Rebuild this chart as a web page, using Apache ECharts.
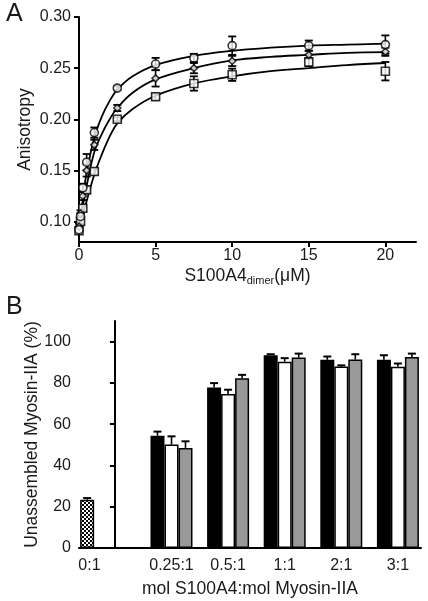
<!DOCTYPE html>
<html><head><meta charset="utf-8">
<script src="https://cdn.jsdelivr.net/npm/echarts@6/dist/echarts.min.js"></script>
<style>html,body{margin:0;padding:0;background:#fff}#c{width:428px;height:601px}</style>
</head><body><div id="c"></div>
<script>
// ---------- Panel A data ----------
const concA = [0, 0.1, 0.25, 0.5, 1, 2.5, 5, 7.5, 10, 15, 20];
const circleVals = [0.092, 0.105, 0.133, 0.158, 0.187, 0.2305, 0.254, 0.260, 0.272, 0.272, 0.273];
const circleErr  = [0.003, 0.003, 0.004, 0.008, 0.005, 0.002, 0.006, 0.004, 0.009, 0.005, 0.009];
const diamondVals = [0.095, 0.108, 0.125, 0.150, 0.175, 0.211, 0.240, 0.250, 0.257, 0.263, 0.266];
const diamondErr  = [0.003, 0.003, 0.004, 0.006, 0.005, 0.003, 0.008, 0.005, 0.005, 0.004, 0.004];
const squareVals = [0.091, 0.100, 0.113, 0.131, 0.149, 0.200, 0.222, 0.235, 0.2435, 0.256, 0.247];
const squareErr  = [0.003, 0.003, 0.003, 0.003, 0.003, 0.002, 0.003, 0.007, 0.006, 0.004, 0.009];
// fitted curves
const fitX = [0, 0.25, 0.5, 1, 1.5, 2, 2.5, 3.5, 5, 7.5, 10, 12.5, 15, 17.5, 20];
const fitTop = [0.092, 0.122, 0.148, 0.182, 0.203, 0.218, 0.229, 0.242, 0.253, 0.262, 0.267, 0.270, 0.272, 0.273, 0.274];
const fitMid = [0.093, 0.115, 0.135, 0.168, 0.186, 0.200, 0.211, 0.226, 0.239, 0.250, 0.2575, 0.261, 0.263, 0.265, 0.2656];
const fitBot = [0.091, 0.106, 0.120, 0.146, 0.166, 0.183, 0.196, 0.210, 0.223, 0.235, 0.242, 0.247, 0.250, 0.253, 0.255];
const ticksAx = [0, 5, 10, 15, 20];
const ticksAy = [0.10, 0.15, 0.20, 0.25, 0.30];

// ---------- Panel B data ----------
const ratioLabels = ['0:1', '0.25:1', '0.5:1', '1:1', '2:1', '3:1'];
const labelPos = [-0.45, 1, 2, 3, 4, 5];
const groupPos = [0, 1, 2, 3, 4, 5];
const blackVals = [null, 54.4, 77.8, 93.4, 91.2, 91.2];
const blackErr  = [null, 2.0, 2.1, 0.5, 1.6, 2.2];
const whiteVals = [0, 50.1, 74.6, 90.3, 87.9, 87.8];
const whiteErr  = [null, 4.0, 2.1, 1.7, 0.6, 1.6];
const greyVals  = [null, 48.5, 82.3, 92.3, 91.3, 92.6];
const greyErr   = [null, 3.2, 1.6, 1.9, 2.6, 1.6];
const ctrlPos = [-0.49];
const ctrlVals = [23.4];
const ctrlErr = [0.8];
const ticksBy = [0, 20, 40, 60, 80, 100];

const FONT = 'Liberation Sans, Arial, sans-serif';
const TXT = '#1a1a1a';

// hatch pattern
const pc = document.createElement('canvas');
pc.width = 4; pc.height = 4;
const g = pc.getContext('2d');
g.fillStyle = '#000'; g.fillRect(0, 0, 4, 4);
g.fillStyle = '#fff'; g.fillRect(0, 0, 2, 2); g.fillRect(2, 2, 2, 2);

function zip(xs, ys) { return xs.map((x, i) => [x, ys[i]]); }
function errData(xs, ys, es) { return xs.map((x, i) => [x, ys[i], es[i]]); }

function errRenderA(params, api) {
  const x = api.value(0), y = api.value(1), e = api.value(2);
  const lo = api.coord([x, y - e]), hi = api.coord([x, y + e]);
  const w = 4;
  return { type: 'group', children: [
    { type: 'line', shape: { x1: lo[0], y1: lo[1], x2: hi[0], y2: hi[1] }, style: { stroke: '#000', lineWidth: 1.6 } },
    { type: 'line', shape: { x1: lo[0] - w, y1: lo[1], x2: lo[0] + w, y2: lo[1] }, style: { stroke: '#000', lineWidth: 1.8 } },
    { type: 'line', shape: { x1: hi[0] - w, y1: hi[1], x2: hi[0] + w, y2: hi[1] }, style: { stroke: '#000', lineWidth: 1.8 } }
  ]};
}
const BW = 14;
function errRenderB(offsetIdx) {
  return function (params, api) {
    const x = api.value(0), y = api.value(1), e = api.value(2);
    if (y == null || isNaN(y) || e == null || isNaN(e)) return;
    const p = api.coord([x, y]), q = api.coord([x, y + e]);
    const dx = offsetIdx * BW;
    return { type: 'group', children: [
      { type: 'line', shape: { x1: p[0] + dx, y1: p[1], x2: q[0] + dx, y2: q[1] }, style: { stroke: '#000', lineWidth: 1.6 } },
      { type: 'line', shape: { x1: q[0] + dx - 4, y1: q[1], x2: q[0] + dx + 4, y2: q[1] }, style: { stroke: '#000', lineWidth: 2 } }
    ]};
  };
}

const axisLineStyle = { lineStyle: { color: '#000', width: 2 } };
const labelStyle = { color: TXT, fontSize: 16, fontFamily: FONT };

const chart = echarts.init(document.getElementById('c'), null, { renderer: 'canvas' });
chart.setOption({
  animation: false,
  backgroundColor: '#fff',
  graphic: [
    { type: 'text', left: 6, top: 2, style: { text: 'A', fontSize: 25, fontFamily: FONT, fill: TXT } },
    { type: 'text', left: 6, top: 295, style: { text: 'B', fontSize: 25, fontFamily: FONT, fill: TXT } }
  ],
  grid: [
    { left: 79, right: 12, top: 17, height: 225 },
    { left: 79, right: 7, top: 321, height: 227 }
  ],
  xAxis: [
    { gridIndex: 0, type: 'value', min: 0, max: 22,
      axisLine: axisLineStyle, splitLine: { show: false },
      axisTick: { show: true, length: 5, lineStyle: { color: '#000', width: 2 }, customValues: ticksAx },
      axisLabel: Object.assign({ margin: 6, customValues: ticksAx }, labelStyle),
      name: 'S100A4{sub|dimer}(μM)', nameLocation: 'middle', nameGap: 24, nameMoveOverlap: false,
      nameTextStyle: { color: TXT, fontSize: 17.5, fontFamily: FONT,
        rich: { sub: { fontSize: 11, fontFamily: FONT, color: TXT, verticalAlign: 'bottom', padding: [9, 0, 0, 0] } } } },
    { gridIndex: 1, type: 'value', min: -0.634, max: 5.408,
      axisLine: axisLineStyle, splitLine: { show: false }, axisTick: { show: false },
      axisLabel: Object.assign({ margin: 10, customValues: labelPos,
        formatter: v => { const i = labelPos.findIndex(p => Math.abs(p - v) < 1e-6); return i >= 0 ? ratioLabels[i] : ''; } }, labelStyle),
      name: 'mol S100A4:mol Myosin-IIA', nameLocation: 'middle', nameGap: 32, nameMoveOverlap: false,
      nameTextStyle: { color: TXT, fontSize: 17.5, fontFamily: FONT } },
    { gridIndex: 1, type: 'value', min: -0.634, max: 5.408, show: false }
  ],
  yAxis: [
    { gridIndex: 0, type: 'value', min: 0.08, max: 0.30,
      axisLine: { show: true, lineStyle: { color: '#000', width: 2 } }, splitLine: { show: false },
      axisTick: { show: true, length: 5, lineStyle: { color: '#000', width: 2 }, customValues: ticksAy },
      axisLabel: Object.assign({ margin: 8, customValues: ticksAy, formatter: v => v.toFixed(2) }, labelStyle),
      name: 'Anisotropy', nameLocation: 'middle', nameGap: 45, nameMoveOverlap: false,
      nameTextStyle: { color: TXT, fontSize: 17.5, fontFamily: FONT } },
    { gridIndex: 1, type: 'value', min: 0, max: 110,
      axisLine: { show: true, lineStyle: { color: '#000', width: 2 } }, splitLine: { show: false },
      axisTick: { show: true, length: 5, lineStyle: { color: '#000', width: 2 }, customValues: ticksBy },
      axisLabel: Object.assign({ margin: 8, customValues: ticksBy }, labelStyle),
      name: 'Unassembled Myosin-IIA (%)', nameLocation: 'middle', nameGap: 38, nameMoveOverlap: false,
      nameTextStyle: { color: TXT, fontSize: 17.5, fontFamily: FONT } }
  ],
  series: [
    // fits
    { type: 'line', xAxisIndex: 0, yAxisIndex: 0, data: zip(fitX, fitTop), smooth: 0.4, showSymbol: false, lineStyle: { color: '#000', width: 1.8 }, z: 2 },
    { type: 'line', xAxisIndex: 0, yAxisIndex: 0, data: zip(fitX, fitMid), smooth: 0.4, showSymbol: false, lineStyle: { color: '#000', width: 1.8 }, z: 2 },
    { type: 'line', xAxisIndex: 0, yAxisIndex: 0, data: zip(fitX, fitBot), smooth: 0.4, showSymbol: false, lineStyle: { color: '#000', width: 1.8 }, z: 2 },
    // error bars A
    { type: 'custom', xAxisIndex: 0, yAxisIndex: 0, renderItem: errRenderA, data: errData(concA, circleVals, circleErr), z: 3 },
    { type: 'custom', xAxisIndex: 0, yAxisIndex: 0, renderItem: errRenderA, data: errData(concA, diamondVals, diamondErr), z: 3 },
    { type: 'custom', xAxisIndex: 0, yAxisIndex: 0, renderItem: errRenderA, data: errData(concA, squareVals, squareErr), z: 3 },
    // markers A
    { type: 'scatter', xAxisIndex: 0, yAxisIndex: 0, data: zip(concA, squareVals), symbol: 'rect', symbolSize: 8,
      itemStyle: { color: '#fff', borderColor: '#000', borderWidth: 1.6 }, z: 4 },
    { type: 'scatter', xAxisIndex: 0, yAxisIndex: 0, data: zip(concA, diamondVals), symbol: 'diamond', symbolSize: 7,
      itemStyle: { color: '#fff', borderColor: '#000', borderWidth: 1.6 }, z: 4 },
    { type: 'scatter', xAxisIndex: 0, yAxisIndex: 0, data: zip(concA, circleVals), symbol: 'circle', symbolSize: 8,
      itemStyle: { color: '#fff', borderColor: '#000', borderWidth: 1.6 }, z: 4 },
    // bars B
    { type: 'bar', xAxisIndex: 2, yAxisIndex: 1, data: zip(ctrlPos, ctrlVals), barWidth: BW,
      itemStyle: { color: { image: pc, repeat: 'repeat' }, borderColor: '#000', borderWidth: 1.5 }, z: 2 },
    { type: 'bar', xAxisIndex: 1, yAxisIndex: 1, data: zip(groupPos, blackVals), barWidth: BW, barGap: '0%',
      itemStyle: { color: '#000', borderColor: '#000', borderWidth: 1.5 }, z: 2 },
    { type: 'bar', xAxisIndex: 1, yAxisIndex: 1, data: zip(groupPos, whiteVals), barWidth: BW, barGap: '0%',
      itemStyle: { color: '#fff', borderColor: '#000', borderWidth: 1.5 }, z: 2 },
    { type: 'bar', xAxisIndex: 1, yAxisIndex: 1, data: zip(groupPos, greyVals), barWidth: BW, barGap: '0%',
      itemStyle: { color: '#999', borderColor: '#000', borderWidth: 1.5 }, z: 2 },
    // error bars B
    { type: 'custom', xAxisIndex: 2, yAxisIndex: 1, renderItem: errRenderB(0), data: errData(ctrlPos, ctrlVals, ctrlErr), z: 3 },
    { type: 'custom', xAxisIndex: 1, yAxisIndex: 1, renderItem: errRenderB(-1), data: errData(groupPos, blackVals, blackErr), z: 3 },
    { type: 'custom', xAxisIndex: 1, yAxisIndex: 1, renderItem: errRenderB(0), data: errData(groupPos, whiteVals, whiteErr), z: 3 },
    { type: 'custom', xAxisIndex: 1, yAxisIndex: 1, renderItem: errRenderB(1), data: errData(groupPos, greyVals, greyErr), z: 3 }
  ]
});
</script></body></html>
